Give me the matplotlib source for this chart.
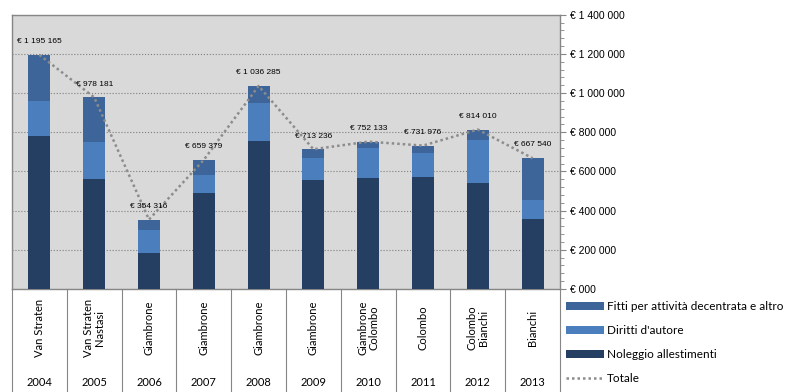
import numpy as np
import matplotlib.pyplot as plt
from matplotlib.ticker import MultipleLocator, FuncFormatter

years = ['2004', '2005', '2006', '2007', '2008', '2009', '2010', '2011', '2012', '2013']
directors = ['Van Straten', 'Van Straten\nNastasi', 'Giambrone', 'Giambrone', 'Giambrone',
             'Giambrone', 'Giambrone\nColombo', 'Colombo', 'Colombo\nBianchi', 'Bianchi']
noleggio = [779000, 560000, 186000, 489000, 753000, 555000, 565000, 570000, 540000, 357000]
diritti = [178000, 188000, 114000, 91000, 194000, 112000, 154000, 122000, 219000, 98000]
fitti = [238165, 230181, 54316, 79379, 89285, 46236, 33133, 39976, 55010, 212540]
totale = [1195165, 978181, 354316, 659379, 1036285, 713236, 752133, 731976, 814010, 667540]

c_fitti = '#3d6599'
c_diritti = '#4a7ebd'
c_noleggio = '#243f61'
c_line = '#8c8c8c'
c_edge = '#868686'

def euro(v, pos=None):
    s = f"{int(v):,}".replace(',', ' ')
    if v == 0:
        s = '000'
    return '€ ' + s

fig = plt.figure(figsize=(8.07, 3.92), dpi=100)
ax = fig.add_axes([12 / 807, 1 - 289 / 392, 548 / 807, 274.3 / 392])
ax.set_facecolor('#d9d9d9')

x = np.arange(len(years))
w = 0.4
b1 = ax.bar(x, noleggio, w, color=c_noleggio, zorder=3)
b2 = ax.bar(x, diritti, w, bottom=noleggio, color=c_diritti, zorder=3)
bottom2 = np.array(noleggio) + np.array(diritti)
b3 = ax.bar(x, fitti, w, bottom=bottom2, color=c_fitti, zorder=3)
ln, = ax.plot(x, totale, linestyle=(0, (1, 1.2)), color=c_line, lw=1.8, zorder=4)

for xi, t in zip(x, totale):
    ax.annotate(euro(t), (xi, t), xytext=(0, 7), textcoords='offset points',
                ha='center', va='bottom', fontsize=6, family='Liberation Sans', zorder=5)

ax.set_xlim(-0.5, len(years) - 0.5)
ax.set_ylim(0, 1400000)
ax.yaxis.tick_right()
ax.yaxis.set_major_locator(MultipleLocator(200000))
ax.yaxis.set_minor_locator(MultipleLocator(40000))
ax.yaxis.set_major_formatter(FuncFormatter(euro))
ax.tick_params(axis='y', which='major', direction='out', length=4, color=c_edge,
               labelsize=7.5, pad=3)
ax.tick_params(axis='y', which='minor', direction='out', length=3, color=c_edge)
for lab in ax.get_yticklabels():
    lab.set_family('Liberation Sans')
ax.set_xticks([])
ax.grid(axis='y', which='major', linestyle=':', color='#7f7f7f', lw=0.8, zorder=1)
for s in ax.spines.values():
    s.set_color(c_edge)
    s.set_linewidth(1)

# category table under the plot
trans = ax.get_xaxis_transform()
bot = -(392 - 289) / 274.3
for b in np.arange(-0.5, len(years), 1.0):
    ax.plot([b, b], [0, bot], transform=trans, color=c_edge, lw=0.8, clip_on=False)
for xi, d, yr in zip(x, directors, years):
    ax.text(xi, -(328 - 289) / 274.3, d, transform=trans, rotation=90, ha='center',
            va='center', fontsize=8, family='Lato', linespacing=1.0)
    ax.text(xi, -(382 - 289) / 274.3, yr, transform=trans, ha='center', va='center',
            fontsize=8, family='Lato')

fig.legend([b3, b2, b1, ln],
           ['Fitti per attività decentrata e altro', "Diritti d'autore",
            'Noleggio allestimenti', 'Totale'],
           loc='upper left', bbox_to_anchor=(566 / 807, 1 - 301 / 392), frameon=False,
           prop={'family': 'Lato', 'size': 8.5}, handlelength=3.2, handleheight=0.7,
           labelspacing=1.1, handletextpad=0.3, borderaxespad=0, borderpad=0)

fig.savefig('out.png', dpi=100)
